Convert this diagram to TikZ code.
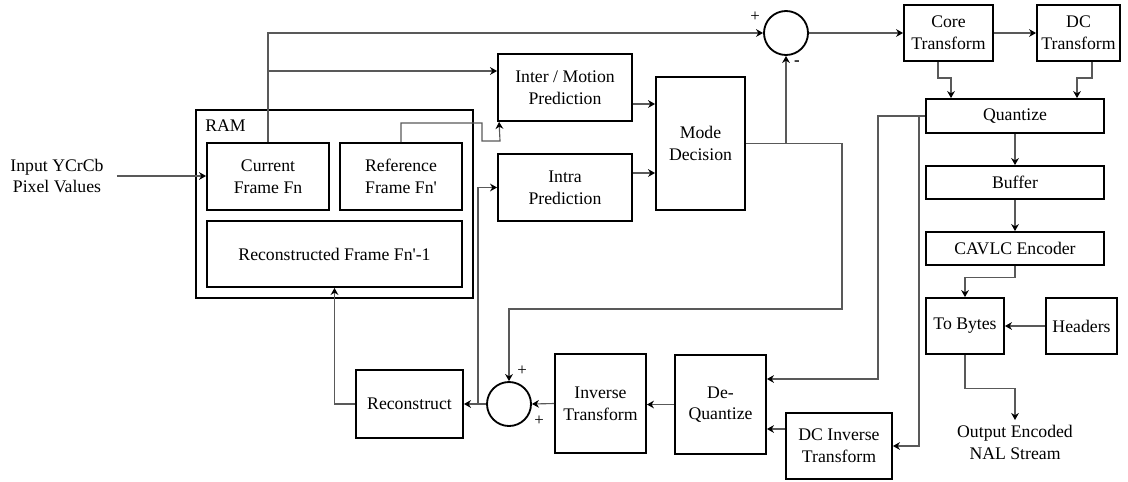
\documentclass[tikz,border=0pt]{standalone}
\usepackage{fontspec}
\setmainfont{Liberation Serif}
\usetikzlibrary{arrows.meta}
\usetikzlibrary{calc}
\newcommand{\encpx}{0.025cm}
\newcommand{\encyin}{71}
\newcommand{\encyrt}{78}
\newcommand{\encyfb}{309}
\newcommand{\encxdq}{878}
\newcommand{\encxdc}{919}
\newcommand{\encxin}{478}
\newcommand{\encq}{\textquotesingle}

\begin{document}
\begin{tikzpicture}[x=\encpx,y=-\encpx,
    font=\fontsize{12.6}{15.4}\selectfont,
    encbox/.style 2 args={draw,line width=1.3pt,align=center,inner sep=0pt,
      minimum width=#1*\encpx,minimum height=#2*\encpx},
    encsum/.style={draw,circle,line width=1.3pt,inner sep=0pt,
      minimum size=44*\encpx},
    enclink/.style={draw=black!65,line width=0.8pt},
    encarr/.style={enclink,-{Stealth[length=5pt,width=5.5pt,black]}},
    encsign/.style={inner sep=0pt,font=\fontsize{12}{14}\selectfont}]
    \useasboundingbox (0,0) rectangle (1128,481);

    \node[align=center,inner sep=0pt] (in) at (57,176)
      {Input YCrCb\\Pixel Values};
    \node[encbox={277}{188}] (ram) at (334.5,204) {};
    \node[anchor=west,inner sep=0pt] (ramlbl) at (205,126) {RAM};
    \node[encbox={122}{67}] (cur) at (268,176.5) {Current\\Frame Fn};
    \node[encbox={122}{67}] (ref) at (401,176.5) {Reference\\Frame Fn\encq};
    \node[encbox={255}{66}] (recf) at (334.5,254)
      {Reconstructed Frame Fn\encq-1};
    \node[encbox={134}{67}] (inter) at (565,87.5)
      {Inter / Motion\\Prediction};
    \node[encbox={134}{67}] (intra) at (565,187.5) {Intra\\Prediction};
    \node[encbox={89}{133}] (mode) at (700.5,143.5) {Mode\\Decision};
    \node[encsum] (sub) at (786,33) {};
    \node[encsign] (subp) at (755,17) {+};
    \node[encsign] (subm) at (797,63) {\textbf{-}};
    \node[encbox={89}{56}] (core) at (948.5,33) {Core\\Transform};
    \node[encbox={83}{56}] (dct) at (1078.5,33) {DC\\Transform};
    \node[encbox={178}{34}] (quant) at (1015,116) {Quantize};
    \node[encbox={178}{33}] (buf) at (1015,182.5) {Buffer};
    \node[encbox={178}{33}] (cavlc) at (1015,248.5) {CAVLC Encoder};
    \node[encbox={78}{56}] (tobytes) at (965,326) {To Bytes};
    \node[encbox={71}{56}] (hdr) at (1081.5,326) {Headers};
    \node[align=center,inner sep=0pt,anchor=north] (out) at (1015,425)
      {Output Encoded\\NAL Stream};
    \node[encbox={106}{66}] (dcinv) at (839,446) {DC Inverse\\Transform};
    \node[encbox={91}{99}] (deq) at (720.5,404.5) {De-\\Quantize};
    \node[encbox={91}{99}] (inv) at (600.5,403.5) {Inverse\\Transform};
    \node[encsum] (add) at (509,404) {};
    \node[encsign] (addp) at (522,371) {+};
    \node[encsign] (addq) at (539,421) {+};
    \node[encbox={107}{68}] (recon) at (409.5,404) {Reconstruct};

    \draw[encarr] ([xshift=13*\encpx]in.east) -- (in.east -| cur.west);
    \draw[encarr] (cur.north) |- (sub.west);
    \draw[encarr] (cur.north |- 0,\encyin) -- (inter.west |- 0,\encyin);
    \draw[encarr] (ref.north) |- (482,123) |- (500,141)
      -- ([xshift=2*\encpx]inter.south west);
    \draw[encarr] (inter.east |- 0,104) -- (mode.west |- 0,104);
    \draw[encarr] (intra.east |- 0,173) -- (mode.west |- 0,173);
    \draw[encarr] (mode.east) -| (842,\encyfb) -| (add.north);
    \draw[encarr] (sub.south |- mode.east) -- (sub.south);
    \draw[encarr] (sub.east) -- (core.west);
    \draw[encarr] (core.east) -- (dct.west);
    \draw[encarr] (938,0 |- core.south) |- (951,\encyrt)
      -- (951,0 |- quant.north);
    \draw[encarr] (1092,0 |- dct.south) |- (1077,\encyrt)
      -- (1077,0 |- quant.north);
    \draw[encarr] (quant.south) -- (buf.north);
    \draw[encarr] (buf.south) -- (cavlc.north);
    \draw[encarr] (cavlc.south) -- ++(0,12) -| (tobytes.north);
    \draw[encarr] (hdr.west) -- (tobytes.east);
    \draw[encarr,shorten >=5*\encpx] (tobytes.south) -- ++(0,34)
      -| (out.north);
    \draw[encarr] (quant.west) -| (\encxdq,379) -- (deq.east |- 0,379);
    \draw[encarr] (\encxdc,0 |- quant.west) |- (dcinv.east);
    \draw[encarr] (dcinv.west |- 0,429) -- (deq.east |- 0,429);
    \draw[encarr] (deq.west) -- (inv.east |- deq.west);
    \draw[encarr] (inv.west) -- (add.east);
    \draw[encarr] (add.west) -- (recon.east);
    \draw[encarr] (\encxin,0 |- add.west) |- (intra.west);
    \draw[encarr] (recon.west) -| (recf.south);
  \end{tikzpicture}
\end{document}
